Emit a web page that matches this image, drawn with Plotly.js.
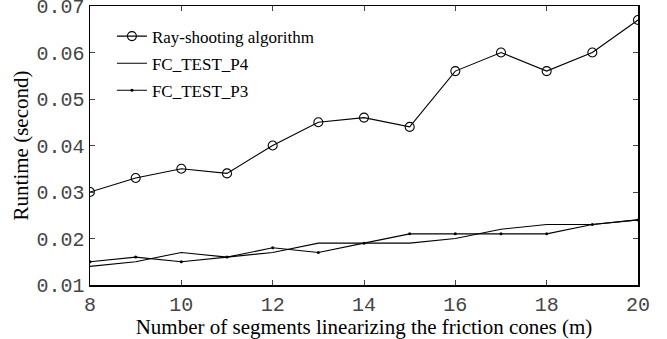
<!DOCTYPE html>
<html><head><meta charset="utf-8">
<script src="https://cdn.plot.ly/plotly-3.0.1.min.js"></script>
<style>html,body{margin:0;padding:0;background:#fff}#chart{width:667px;height:339px}</style>
</head><body><div id="chart"></div>
<script>
const segments = [8,9,10,11,12,13,14,15,16,17,18,19,20];
const rayShooting = [0.030,0.033,0.035,0.034,0.040,0.045,0.046,0.044,0.056,0.060,0.056,0.060,0.067];
const fcTestP4 = [0.014,0.015,0.017,0.016,0.017,0.019,0.019,0.019,0.020,0.022,0.023,0.023,0.024];
const fcTestP3 = [0.015,0.016,0.015,0.016,0.018,0.017,0.019,0.021,0.021,0.021,0.021,0.023,0.024];
const seriesNames = ['Ray-shooting algorithm','FC_TEST_P4','FC_TEST_P3'];
const xTicks = [8,10,12,14,16,18,20];
const yTicks = [0.01,0.02,0.03,0.04,0.05,0.06,0.07];

const traces = [
  {x:segments,y:rayShooting,name:seriesNames[0],legendgroup:'a',mode:'lines+markers',
   line:{color:'#000',width:1.1},marker:{symbol:'circle-open',size:9,color:'#000',line:{width:1.1}}},
  {x:segments,y:fcTestP4,name:seriesNames[1],legendgroup:'b',mode:'lines',line:{color:'#000',width:1.1}},
  {x:segments,y:fcTestP3,name:seriesNames[2],legendgroup:'c',mode:'lines+markers',
   line:{color:'#000',width:1.1},marker:{symbol:'circle',size:3,color:'#000'}}
];
const tickFont = {family:"'Liberation Mono', 'Courier New', monospace",size:20,color:'#444'};
const serif = "'Liberation Serif', 'Times New Roman', serif";
const layout = {
  width:667,height:339,
  margin:{l:90,r:29,t:6,b:54},
  paper_bgcolor:'#fff',plot_bgcolor:'#fff',
  showlegend:true,
  legend:{x:0.040,y:0.955,xanchor:'left',yanchor:'top',bgcolor:'rgba(0,0,0,0)',
    font:{family:serif,size:17,color:'#000'},traceorder:'grouped',
    tracegroupgap:2,itemwidth:30},
  xaxis:{range:[8,20],tickvals:xTicks,ticktext:xTicks.map(String),ticks:'inside',ticklen:5,
    showline:true,linecolor:'#000',linewidth:1.5,mirror:'ticks',showgrid:false,zeroline:false,
    tickfont:tickFont,ticklabeloverflow:'allow',
    title:{text:'Number of segments linearizing the friction cones (m)',standoff:4,
      font:{family:serif,size:21,color:'#000'}}},
  yaxis:{range:[0.01,0.07],tickvals:yTicks,ticktext:yTicks.map(v=>v.toFixed(2)),ticks:'inside',ticklen:5,
    showline:true,linecolor:'#000',linewidth:1.5,mirror:'ticks',showgrid:false,zeroline:false,
    tickfont:tickFont,ticklabeloverflow:'allow',
    title:{text:'Runtime (second)',standoff:2,
      font:{family:serif,size:21,color:'#000'}}}
};
Plotly.newPlot('chart',traces,layout,{displayModeBar:false,staticPlot:true});
</script></body></html>
